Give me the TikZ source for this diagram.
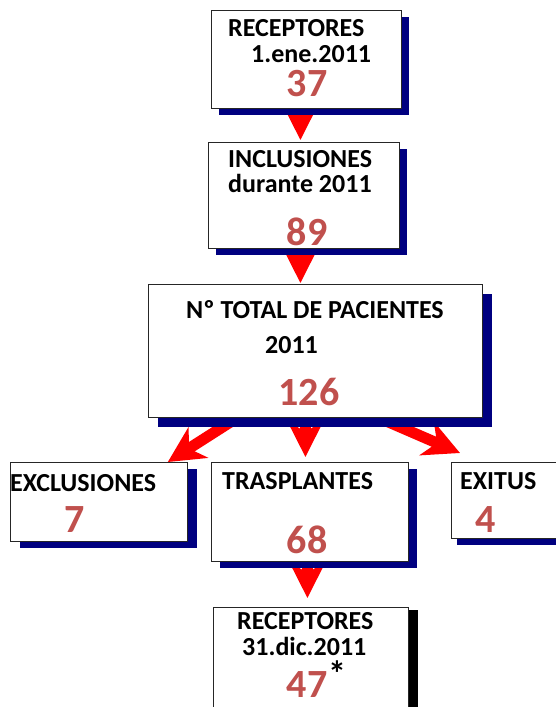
\documentclass[tikz,border=0pt]{standalone}
\usepackage{fontspec}
\setmainfont{Carlito}
\usetikzlibrary{arrows.meta,calc,shadows,backgrounds}
\definecolor{navy}{HTML}{000080}
\definecolor{numred}{HTML}{C0504D}
\definecolor{arrowred}{HTML}{FF0000}
\tikzset{
  box/.style={
    draw=black!85,fill=white,line width=.8pt,
    anchor=north west,inner sep=0pt
  },
  navyshadow/.style={
    drop shadow={shadow xshift=#1,shadow yshift=-7pt,fill=navy,opacity=1}
  },
  blackshadow/.style={
    drop shadow={shadow xshift=10pt,shadow yshift=-3pt,fill=black,opacity=1}
  },
  lbl/.style={anchor=base west,inner sep=0pt,font=\bfseries\fontsize{26}{28}\selectfont},
  num/.style={anchor=base,inner sep=0pt,text=numred,font=\bfseries\fontsize{40}{44}\selectfont},
  arrow/.style={draw=arrowred,line width=11pt,-{Stealth[length=36pt,width=36pt,inset=11pt]}}
}

\begin{document}
\begin{tikzpicture}[x=1pt,y=-1pt]
\useasboundingbox (0,0) rectangle (555,707);

% boxes
\node[box,navyshadow=8pt,minimum width=190pt,minimum height=98pt] (rec1) at (211,10) {};
\node[box,navyshadow=8pt,minimum width=191pt,minimum height=106pt] (incl) at (208,142) {};
\node[box,drop shadow={shadow xshift=10pt,shadow yshift=-10pt,fill=navy,opacity=1},
  minimum width=334pt,minimum height=133pt] (total) at (148,284) {};
\node[box,navyshadow=10pt,minimum width=177pt,minimum height=79pt] (excl) at (10,462) {};
\node[box,navyshadow=9pt,minimum width=197pt,minimum height=99pt] (trasp) at (211,462) {};
\node[box,navyshadow=6pt,minimum width=114pt,minimum height=76pt] (exitus) at (451,462) {};
\node[box,blackshadow,minimum width=195pt,minimum height=120pt] (rec2) at (213,607) {};

% arrows behind the boxes
\begin{scope}[on background layer]
\draw[arrow] ($(rec1.south)+(-6,-10)$) -- ($(incl.north)+(-3.5,-2)$);
\draw[arrow] ($(incl.south)+(-3.5,-10)$) -- ($(total.north)+(-15,-1)$);
\draw[arrow] ($(total.south west)+(89,0)$) -- ($(excl.north east)+(-20,0)$);
\draw[arrow] ($(total.south)+(-10,-5)$) -- ($(trasp.north)+(-4.5,-5)$);
\draw[arrow] ($(total.south east)+(-104,0)$) -- ($(exitus.north west)+(9,-9)$);
\draw[arrow] ($(trasp.south)+(-2.5,-20)$) -- ($(rec2.north)+(-3.5,-9)$);
\end{scope}

% texts
\node[lbl] (rec1a) at (228,36) {RECEPTORES};
\node[lbl] (rec1b) at (251,62) {1.ene.2011};
\node[num] (rec1n) at (307,96) {37};

\node[lbl] (incla) at (228,167) {INCLUSIONES};
\node[lbl] (inclb) at (228,192) {durante 2011};
\node[num] (incln) at (307,245) {89};

\node[lbl] (totala) at (186,318) {Nº TOTAL DE PACIENTES};
\node[lbl] (totalb) at (265,353) {2011};
\node[num] (totaln) at (309,405) {126};

\node[lbl] (excla) at (10,491) {EXCLUSIONES};
\node[num] (excln) at (75,532) {7};

\node[lbl] (traspa) at (222,489) {TRASPLANTES};
\node[num] (traspn) at (307,553) {68};

\node[lbl] (exitusa) at (460,489) {EXITUS};
\node[num] (exitusn) at (486,532) {4};

\node[lbl] (rec2a) at (237,629) {RECEPTORES};
\node[lbl] (rec2b) at (242,655) {31.dic.2011};
\node[num] (rec2n) at (307,697) {47};
\node[anchor=north west,inner sep=0pt,font=\bfseries\fontsize{36}{38}\selectfont] (rec2s)
  at (328,661) {*};
\end{tikzpicture}
\end{document}
